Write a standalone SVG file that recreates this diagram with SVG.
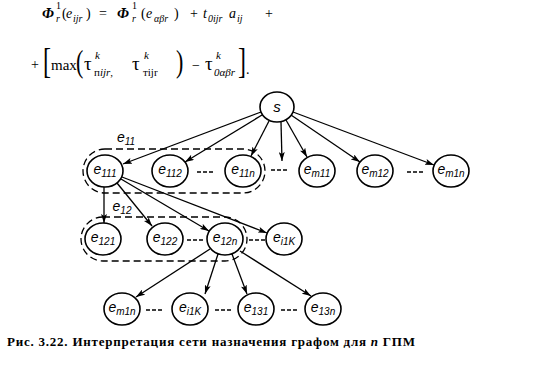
<svg xmlns="http://www.w3.org/2000/svg" width="546" height="368" viewBox="0 0 546 368">
<style>
.bg{fill:#fff}
.nd{fill:#fff;stroke:#000;stroke-width:1.6}
.grp{fill:none;stroke:#000;stroke-width:1.3;stroke-dasharray:7 4}
.ln{fill:none;stroke:#000;stroke-width:1.3;marker-end:url(#ah)}
.dots{stroke:#000;stroke-width:1.5;stroke-dasharray:4 2}
.lb{font-family:"Liberation Sans",Arial,sans-serif;font-style:italic;font-size:14px;text-anchor:middle;fill:#000}
.sb{font-size:10px}
.f{font-family:"Liberation Serif","Times New Roman",serif;fill:#000}
.phi{font-size:15px;font-style:italic;font-weight:bold}
.mi{font-size:14px;font-style:italic}
.m{font-size:14px}
.t{font-size:19px}
.s{font-size:10px}
.si{font-size:10px;font-style:italic}
.s2{font-size:11px}
.si2{font-size:11px;font-style:italic}
.br{font-size:24px}
.pr{font-size:22px}
.cap{font-family:"Liberation Serif","Times New Roman",serif;font-weight:bold;font-size:13px;fill:#000}
</style>
<defs>
<marker id="ah" markerUnits="userSpaceOnUse" markerWidth="10" markerHeight="6" refX="9" refY="3" orient="auto">
<path d="M0,0 L9,3 L0,6 L2,3 z" fill="#000"/>
</marker>
</defs>
<rect class="bg" width="546" height="368"/>

<g id="formula">
<text class="f phi" x="42" y="18">Φ</text>
<text class="f s" x="56" y="9">1</text>
<text class="f si" x="56" y="22">r</text>
<text class="f m" x="62" y="18">(</text>
<text class="f mi" x="66" y="18">e</text>
<text class="f si" x="73" y="22">ijr</text>
<text class="f m" x="86" y="18">)</text>
<text class="f m" x="99" y="18">=</text>
<text class="f phi" x="117" y="18">Φ</text>
<text class="f s" x="132" y="9">1</text>
<text class="f si" x="132" y="22">r</text>
<text class="f m" x="141" y="18">(</text>
<text class="f mi" x="146" y="18">e</text>
<text class="f si" x="154" y="22">αβr</text>
<text class="f m" x="174" y="18">)</text>
<text class="f m" x="190" y="18">+</text>
<text class="f mi" x="203" y="18">t</text>
<text class="f si" x="208" y="22">0ijr</text>
<text class="f mi" x="229" y="18">a</text>
<text class="f si" x="237" y="22">ij</text>
<text class="f m" x="265" y="18">+</text>

<text class="f m" x="31" y="69">+</text>
<text class="f br" transform="translate(43,73) scale(1,1.45)">[</text>
<text class="f" style="font-size:15px" x="51" y="70">max</text>
<text class="f pr" transform="translate(76,72) scale(1,1.4)">(</text>
<text class="f t" x="84" y="70">τ</text>
<text class="f si2" x="95" y="59">k</text>
<text class="f s2" x="94" y="76">п<tspan style="font-style:italic">ijr</tspan>,</text>
<text class="f t" x="132" y="70">τ</text>
<text class="f si2" x="144" y="59">k</text>
<text class="f s2" x="143" y="76">тijr</text>
<text class="f pr" transform="translate(176,72) scale(1,1.4)">)</text>
<text class="f m" x="192" y="70">−</text>
<text class="f t" x="205" y="70">τ</text>
<text class="f si2" x="216" y="59">k</text>
<text class="f si2" x="214" y="76">0αβr</text>
<text class="f br" transform="translate(238,73) scale(1,1.45)">]</text>
<text class="f m" x="246" y="74">.</text>
</g>

<g id="groups">
<rect class="grp" x="83" y="149" width="182" height="44" rx="22" ry="22"/>
<text class="lb" x="126" y="142">e<tspan class="sb" dy="3">11</tspan></text>
<rect class="grp" x="81" y="217" width="166" height="44" rx="22" ry="22"/>
<text class="lb" x="122" y="211">e<tspan class="sb" dy="3">12</tspan></text>
</g>

<g id="connectors">
<line class="ln" x1="261" y1="112" x2="123" y2="164"/>
<line class="ln" x1="262" y1="115" x2="185" y2="162"/>
<line class="ln" x1="269" y1="121" x2="251" y2="156"/>
<line class="ln" x1="281" y1="122" x2="282" y2="161"/>
<line class="ln" x1="286" y1="120" x2="307" y2="157"/>
<line class="ln" x1="291" y1="115" x2="360" y2="162"/>
<line class="ln" x1="293" y1="112" x2="434" y2="165"/>
<line class="ln" x1="104" y1="187" x2="104" y2="223"/>
<line class="ln" x1="117" y1="183" x2="152" y2="226"/>
<line class="ln" x1="121" y1="179" x2="209" y2="231"/>
<line class="ln" x1="122" y1="177" x2="267" y2="233"/>
<line class="ln" x1="210" y1="249" x2="136" y2="297"/>
<line class="ln" x1="218" y1="254" x2="205" y2="294"/>
<line class="ln" x1="232" y1="254" x2="247" y2="294"/>
<line class="ln" x1="240" y1="251" x2="311" y2="296"/>
</g>

<g id="ellipsis">
<line class="dots" x1="197" y1="172" x2="213" y2="172"/>
<line class="dots" x1="271" y1="170" x2="287" y2="170"/>
<line class="dots" x1="407" y1="172" x2="423" y2="172"/>
<line class="dots" x1="187" y1="240" x2="203" y2="240"/>
<line class="dots" x1="249" y1="240" x2="265" y2="240"/>
<line class="dots" x1="146" y1="310" x2="162" y2="310"/>
<line class="dots" x1="215" y1="310" x2="231" y2="310"/>
<line class="dots" x1="281" y1="310" x2="297" y2="310"/>
</g>

<g id="S"><ellipse class="nd" cx="277" cy="107" rx="17" ry="15"/><text class="lb" x="277" y="112" style="font-size:15px">s</text></g>
<g id="e111"><ellipse class="nd" cx="105" cy="171" rx="18" ry="16"/><text class="lb" x="105" y="174">e<tspan class="sb" dy="3">111</tspan></text></g>
<g id="e112"><ellipse class="nd" cx="170" cy="171" rx="18" ry="16"/><text class="lb" x="170" y="174">e<tspan class="sb" dy="3">112</tspan></text></g>
<g id="e11n"><ellipse class="nd" cx="243" cy="171" rx="18" ry="16"/><text class="lb" x="243" y="174">e<tspan class="sb" dy="3">11n</tspan></text></g>
<g id="em11"><ellipse class="nd" cx="317" cy="171" rx="18" ry="16"/><text class="lb" x="317" y="174">e<tspan class="sb" dy="3">m11</tspan></text></g>
<g id="em12"><ellipse class="nd" cx="375" cy="171" rx="18" ry="16"/><text class="lb" x="375" y="174">e<tspan class="sb" dy="3">m12</tspan></text></g>
<g id="em1n_top"><ellipse class="nd" cx="451" cy="171" rx="18" ry="16"/><text class="lb" x="451" y="174">e<tspan class="sb" dy="3">m1n</tspan></text></g>
<g id="e121"><ellipse class="nd" cx="103" cy="239" rx="18" ry="16"/><text class="lb" x="103" y="242">e<tspan class="sb" dy="3">121</tspan></text></g>
<g id="e122"><ellipse class="nd" cx="165" cy="239" rx="18" ry="16"/><text class="lb" x="165" y="242">e<tspan class="sb" dy="3">122</tspan></text></g>
<g id="e12n"><ellipse class="nd" cx="225" cy="239" rx="18" ry="16"/><text class="lb" x="225" y="242">e<tspan class="sb" dy="3">12n</tspan></text></g>
<g id="ei1K_mid"><ellipse class="nd" cx="284" cy="239" rx="18" ry="16"/><text class="lb" x="284" y="242">e<tspan class="sb" dy="3">i1K</tspan></text></g>
<g id="em1n_bot"><ellipse class="nd" cx="122" cy="309" rx="18" ry="16"/><text class="lb" x="122" y="312">e<tspan class="sb" dy="3">m1n</tspan></text></g>
<g id="ei1K_bot"><ellipse class="nd" cx="190" cy="309" rx="18" ry="16"/><text class="lb" x="190" y="312">e<tspan class="sb" dy="3">i1K</tspan></text></g>
<g id="e131"><ellipse class="nd" cx="256" cy="309" rx="18" ry="16"/><text class="lb" x="256" y="312">e<tspan class="sb" dy="3">131</tspan></text></g>
<g id="e13n"><ellipse class="nd" cx="323" cy="309" rx="18" ry="16"/><text class="lb" x="323" y="312">e<tspan class="sb" dy="3">13n</tspan></text></g>

<text class="cap" x="7" y="346" textLength="408" lengthAdjust="spacing">Рис. 3.22. Интерпретация сети назначения графом для <tspan style="font-style:italic">n</tspan> ГПМ</text>
</svg>
